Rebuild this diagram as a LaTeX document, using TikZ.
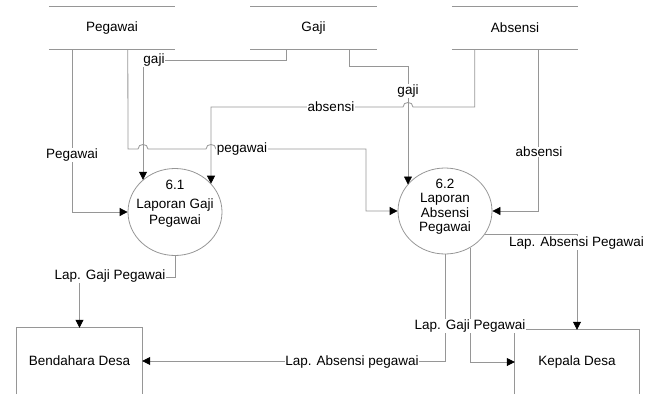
\documentclass[tikz,border=0pt]{standalone}
\usepackage{fontspec}
\setmainfont{Liberation Sans}
\usetikzlibrary{arrows.meta,shapes.geometric}
\definecolor{lineg}{RGB}{150,150,150}
\begin{document}
\begin{tikzpicture}[x=1pt,y=-1pt, font=\fontsize{13.5}{14.5}\selectfont,
 flow/.style={draw=lineg, line width=0.8pt, -{Triangle[length=8pt,width=8pt,color=black]}},
 plain/.style={draw=lineg, line width=0.8pt},
 lbl/.style={fill=white, inner sep=0.5pt},
 proc/.style={ellipse, draw=lineg, line width=0.8pt, minimum width=94pt, minimum height=87pt, inner sep=0pt},
 store/.style={minimum width=126pt, minimum height=42pt, inner sep=0pt},
 ext/.style={minimum width=125pt, minimum height=66pt, inner sep=0pt}]
\useasboundingbox (0,0) rectangle (659,394);
% data stores
\node[store] (pegS) at (112,28) {Pegawai};
\node[store] (gajS) at (313.5,28) {Gaji};
\node[store] (absS) at (515,28) {Absensi};
\foreach \s in {pegS,gajS,absS} {
  \draw[plain] (\s.north west) -- (\s.north east);
  \draw[plain] (\s.south west) -- (\s.south east);
}
% processes
\node[proc] (p61) at (175,212) {};
\node[align=center] (p61t) at (175,203.5) {6.1\\[5pt]Laporan Gaji\\[1pt]Pegawai};
\node[proc, minimum height=86pt] (p62) at (445,211) {};
\node[align=center] (p62t) at (445,206.5) {6.2\\Laporan\\Absensi\\Pegawai};
% external entities
\node[ext] (bend) at (79.5,361) {Bendahara Desa};
\node[ext, minimum width=124pt, minimum height=64pt] (kep) at (577,362) {Kepala Desa};
\draw[plain] (bend.south west) |- (bend.north east) -- (bend.south east);
\draw[plain] (kep.south west) |- (kep.north east) -- (kep.south east);
% flows
\draw[flow] ([xshift=24pt]pegS.south west) |- (p61.west);
\draw[flow] ([xshift=79pt]pegS.south west) -- (128,149) -- (138,149)
   .. controls (138,143) and (148,143) .. (148,149) -- (206,149)
   .. controls (206,143) and (216,143) .. (216,149) -- (366,149) |- (p62.west);
\draw[flow] ([xshift=36pt]gajS.south west) |- (143,60) -- (143,179.8);
\draw[flow] ([xshift=99pt]gajS.south west) |- (408,66) -- (408,184.5);
\draw[flow] ([xshift=23pt]absS.south west) |- (413,107)
   .. controls (413,101) and (403,101) .. (403,107) -- (211,107) -- (211,183.7);
\draw[flow] ([xshift=87pt]absS.south west) |- (p62.east);
\draw[flow] (p61.south) -- ++(0,21) -| (bend.north);
\draw[flow] (p62.-30) -| (kep.north);
\draw[flow] (p62.-56) |- (kep.west);
\draw[flow] (p62.south) |- (bend.east);
% labels
\node[lbl] (l1) at (72,155) {Pegawai};
\node[lbl] (l2) at (242,149) {pegawai};
\node[lbl] (l3) at (154,60) {gaji};
\node[lbl] (l4) at (331,107) {absensi};
\node[lbl] (l5) at (408,91) {gaji};
\node[lbl] (l6) at (539,152) {absensi};
\node[lbl] (l7) at (110,276) {Lap. Gaji Pegawai};
\node[lbl] (l8) at (576.5,243) {Lap. Absensi Pegawai};
\node[lbl] (l9) at (470,326) {Lap. Gaji Pegawai};
\node[lbl] (l10) at (352,362) {Lap. Absensi pegawai};
\end{tikzpicture}
\end{document}
